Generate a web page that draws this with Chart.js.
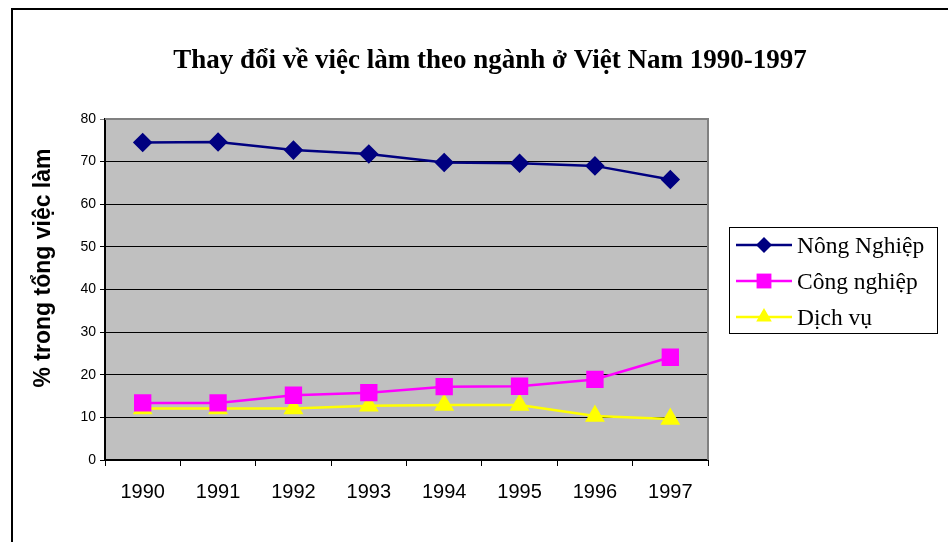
<!DOCTYPE html>
<html>
<head>
<meta charset="utf-8">
<script src="https://cdn.jsdelivr.net/npm/chart.js@4.4.1/dist/chart.umd.min.js"></script>
<style>
    html, body { margin: 0; padding: 0; background: #fff; }
    #wrap { position: relative; width: 948px; height: 542px; overflow: hidden; }
    #frame { position: absolute; left: 11px; top: 8px; width: 960px; height: 600px;
             border-top: 2px solid #000; border-left: 2px solid #000; pointer-events: none; }
    canvas { position: absolute; left: 0; top: 0; }
</style>
</head>
<body>
<div id="wrap">
    <canvas id="employmentChart" width="948" height="542"></canvas>
    <div id="frame"></div>
</div>
<script>
// data
const years = ['1990', '1991', '1992', '1993', '1994', '1995', '1996', '1997'];
const nongNghiep = [74.5, 74.6, 72.7, 71.8, 69.8, 69.6, 69.0, 65.8];
const congNghiep = [13.4, 13.4, 15.2, 15.8, 17.2, 17.3, 18.9, 24.1];
const dichVu = [12.1, 12.1, 12.1, 12.7, 12.9, 12.9, 10.3, 9.6];
const seriesNames = ['Nông Nghiệp', 'Công nghiệp', 'Dịch vụ'];
const yTicks = [0, 10, 20, 30, 40, 50, 60, 70, 80];

const chartTitle = 'Thay đổi về việc làm theo ngành ở Việt Nam 1990-1997';
const yTitle = '% trong tổng việc làm';

// markers for the hand drawn legend
function drawMarker(ctx, style, x, y, r, color) {
    ctx.save();
    ctx.fillStyle = color;
    ctx.beginPath();
    if (style === 'rectRot') {
        ctx.moveTo(x - r, y); ctx.lineTo(x, y - r); ctx.lineTo(x + r, y); ctx.lineTo(x, y + r);
    } else if (style === 'rect') {
        const s = r * Math.SQRT1_2;
        ctx.rect(x - s, y - s, 2 * s, 2 * s);
    } else {
        for (let i = 0; i < 3; i++) {
            const a = i * 2 * Math.PI / 3;
            ctx.lineTo(x + Math.sin(a) * r, y - Math.cos(a) * r);
        }
    }
    ctx.closePath();
    ctx.fill();
    ctx.restore();
}

const plotBackground = {
    id: 'plotBackground',
    beforeDraw(chart) {
        const { ctx, chartArea: a } = chart;
        ctx.save();
        ctx.fillStyle = '#c0c0c0';
        ctx.fillRect(a.left, a.top, a.right - a.left, a.bottom - a.top);
        ctx.restore();
    },
    beforeDatasetsDraw(chart) {
        const { ctx, chartArea: a } = chart;
        ctx.save();
        ctx.strokeStyle = '#808080';
        ctx.lineWidth = 2;
        ctx.beginPath();
        ctx.moveTo(a.left, a.top);
        ctx.lineTo(a.right, a.top);
        ctx.lineTo(a.right, a.bottom);
        ctx.stroke();
        ctx.restore();
    }
};

const extraText = {
    id: 'extraText',
    afterDraw(chart) {
        const ctx = chart.ctx;
        ctx.save();
        ctx.fillStyle = '#000';

        // main title
        ctx.font = 'bold 27px "Liberation Serif", "Times New Roman", serif';
        ctx.textAlign = 'center';
        ctx.textBaseline = 'alphabetic';
        ctx.fillText(chartTitle, 490, 68);

        // y axis title
        ctx.save();
        ctx.translate(44, 268);
        ctx.rotate(-Math.PI / 2);
        ctx.font = 'bold 23px "Liberation Sans", Arial, sans-serif';
        ctx.textBaseline = 'middle';
        ctx.fillText(yTitle, 0, 0);
        ctx.restore();

        // legend box
        ctx.fillStyle = '#fff';
        ctx.fillRect(729, 227, 208, 106);
        ctx.strokeStyle = '#000';
        ctx.lineWidth = 1;
        ctx.strokeRect(729.5, 227.5, 208, 106);

        const rows = [245, 281, 317];
        chart.data.datasets.forEach((ds, i) => {
            const y = rows[i];
            ctx.strokeStyle = ds.borderColor;
            ctx.lineWidth = 2.5;
            ctx.beginPath();
            ctx.moveTo(736, y);
            ctx.lineTo(792, y);
            ctx.stroke();
            drawMarker(ctx, ds.pointStyle, 764, y, ds.pointRadius, ds.borderColor);
            ctx.fillStyle = '#000';
            ctx.font = '23.5px "Liberation Serif", "Times New Roman", serif';
            ctx.textAlign = 'left';
            ctx.textBaseline = 'alphabetic';
            ctx.fillText(ds.label, 797, y + 8);
        });
        ctx.restore();
    }
};

new Chart(document.getElementById('employmentChart'), {
    type: 'line',
    data: {
        labels: years,
        datasets: [{
            label: seriesNames[0],
            data: nongNghiep,
            borderColor: '#000080',
            backgroundColor: '#000080',
            pointStyle: 'rectRot',
            pointRadius: 8,
            borderWidth: 2.5
        }, {
            label: seriesNames[1],
            data: congNghiep,
            borderColor: '#ff00ff',
            backgroundColor: '#ff00ff',
            pointStyle: 'rect',
            pointRadius: 10.5,
            borderWidth: 2.5
        }, {
            label: seriesNames[2],
            data: dichVu,
            borderColor: '#ffff00',
            backgroundColor: '#ffff00',
            pointStyle: 'triangle',
            pointRadius: 9,
            borderWidth: 2.5
        }]
    },
    options: {
        responsive: false,
        animation: false,
        layout: { padding: { left: 60, top: 119, right: 240, bottom: 20 } },
        plugins: {
            legend: { display: false },
            title: { display: false },
            tooltip: { enabled: false }
        },
        elements: { line: { tension: 0 }, point: { borderWidth: 0 } },
        scales: {
            x: {
                offset: true,
                grid: { offset: true, drawOnChartArea: false, drawTicks: true, tickLength: 6, color: '#000' },
                border: { color: '#000', width: 2 },
                ticks: { color: '#000', padding: 14, font: { family: '"Liberation Sans", Arial, sans-serif', size: 20 } },
                afterFit(scale) { scale.height = 62; }
            },
            y: {
                min: 0,
                max: 80,
                afterBuildTicks(scale) { scale.ticks = yTicks.map(v => ({ value: v })); },
                grid: {
                    color: c => (c.tick && c.tick.value === 80) ? '#808080' : '#000',
                    tickLength: 5
                },
                border: { color: '#000', width: 2 },
                ticks: { color: '#000', padding: 4, font: { family: '"Liberation Sans", Arial, sans-serif', size: 14 } },
                afterFit(scale) { scale.width = 45; }
            }
        }
    },
    plugins: [plotBackground, extraText]
});
</script>
</body>
</html>
